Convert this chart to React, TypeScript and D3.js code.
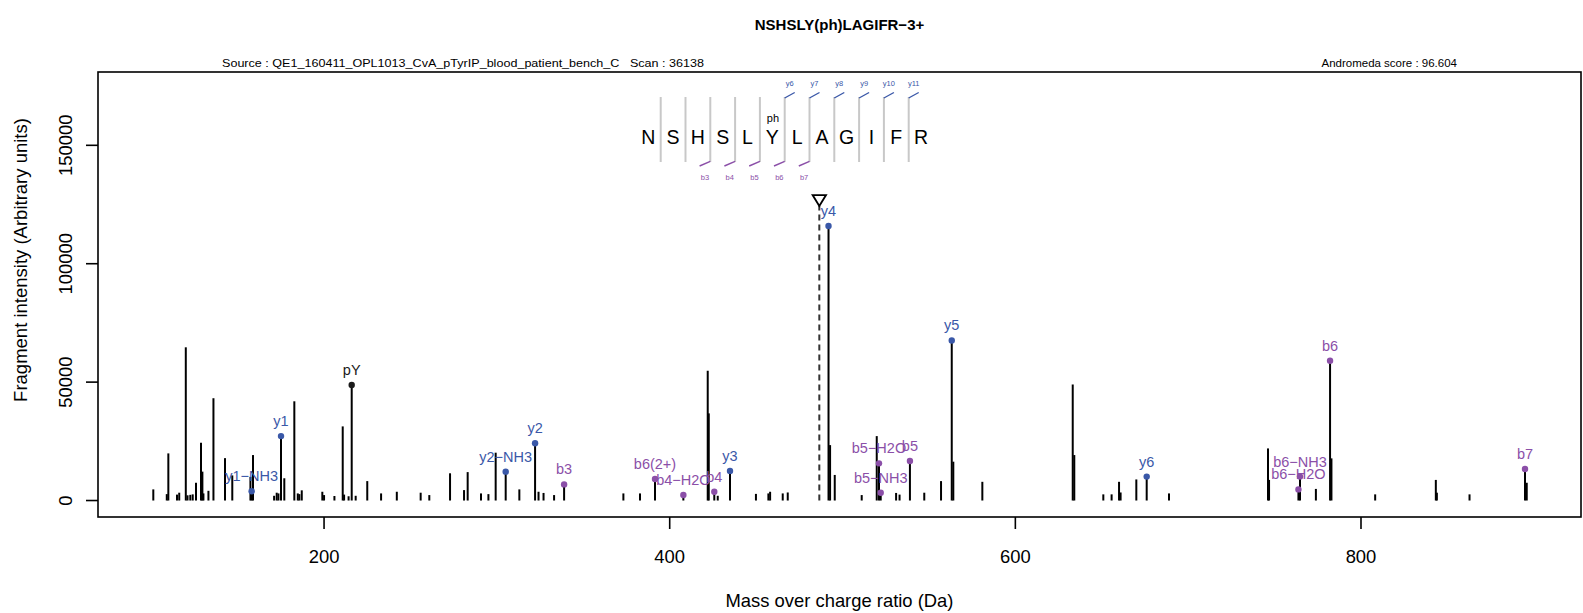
import React from 'react';
import * as d3 from 'd3';

// ---------------- DATA ----------------
const title = 'NSHSLY(ph)LAGIFR\u22123+';
const sourceText = 'Source : QE1_160411_OPL1013_CvA_pTyrIP_blood_patient_bench_C   Scan : 36138';
const scoreText = 'Andromeda score : 96.604';
const xAxisTitle = 'Mass over charge ratio (Da)';
const yAxisTitle = 'Fragment intensity (Arbitrary units)';

const xTicks = [200, 400, 600, 800];
const yTicks = [0, 50000, 100000, 150000];

// unannotated fragment peaks
const peakMz = [101.2, 109.0, 109.9, 114.9, 116.2, 120.0, 121.0, 122.6, 124.0, 125.9, 128.8, 129.6, 130.2, 133.1, 136.0, 142.7, 146.9, 157.4, 158.9, 171.1, 172.6, 173.6, 177.0, 182.8, 184.8, 185.7, 187.1, 199.0, 200.0, 206.0, 210.8, 211.6, 214.2, 218.3, 225.0, 233.0, 242.1, 255.9, 260.9, 272.9, 281.0, 283.1, 290.8, 295.1, 299.3, 313.0, 324.1, 327.0, 333.1, 373.2, 382.8, 422.0, 422.6, 427.8, 449.9, 457.1, 458.1, 465.4, 468.3, 492.8, 495.5, 511.1, 519.8, 531.0, 533.0, 547.3, 557.0, 564.1, 580.9, 633.2, 634.1, 650.9, 655.7, 660.0, 660.9, 670.0, 688.9, 746.2, 746.8, 773.9, 782.9, 808.2, 843.3, 843.9, 862.8, 895.9];
const peakIntensity = [4700, 2700, 19900, 2500, 3300, 64700, 2200, 2400, 2600, 7500, 24400, 12200, 3000, 4100, 43200, 17900, 10600, 10000, 19200, 2000, 3300, 3000, 9400, 41900, 3000, 2700, 4300, 3700, 2300, 1900, 31300, 2500, 1800, 2000, 8200, 3000, 3700, 3300, 2300, 11500, 4400, 12000, 3000, 2700, 20200, 4700, 3700, 3200, 2300, 3000, 3000, 54800, 36800, 2000, 2800, 3000, 3700, 3000, 3400, 23400, 10800, 2300, 27200, 3200, 2500, 3300, 8200, 16400, 7900, 49000, 19200, 2600, 2600, 7900, 3400, 8900, 3000, 22000, 8700, 4900, 17800, 2600, 8700, 3300, 2600, 7500];

// annotated fragment peaks
const annLabel = ['y1\u2212NH3', 'y1', 'pY', 'y2\u2212NH3', 'y2', 'b3', 'b6(2+)', 'b4\u2212H2O', 'b4', 'y3', 'y4', 'b5\u2212H2O', 'b5\u2212NH3', 'b5', 'y5', 'y6', 'b6\u2212H2O', 'b6\u2212NH3', 'b6', 'b7'];
const annMz = [158.1, 175.1, 216.0, 305.1, 322.1, 338.9, 391.5, 407.9, 425.8, 434.9, 491.9, 521.1, 522.1, 539.0, 563.2, 676.0, 763.8, 764.7, 782.1, 894.9];
const annIntensity = [3900, 27200, 48800, 12200, 24200, 6800, 9100, 2300, 3700, 12500, 115900, 15700, 3300, 16700, 67600, 10100, 4700, 10100, 59000, 13300];
const annSeries = ['y', 'y', 'imm', 'y', 'y', 'b', 'b', 'b', 'b', 'y', 'y', 'b', 'b', 'b', 'y', 'y', 'b', 'b', 'b', 'b'];

const precursorMz = 486.57;
const precursorMarkIntensity = 129000;

const sequence = ['N', 'S', 'H', 'S', 'L', 'Y', 'L', 'A', 'G', 'I', 'F', 'R'];
const modPosition = 6; // 1-based residue carrying "ph"
const modLabel = 'ph';
// separator index (after residue i) and label for each matched ion shown on the sequence
const bMarkSep = [3, 4, 5, 6, 7];
const bMarkLabel = ['b3', 'b4', 'b5', 'b6', 'b7'];
const yMarkSep = [6, 7, 8, 9, 10, 11];
const yMarkLabel = ['y6', 'y7', 'y8', 'y9', 'y10', 'y11'];

// ---------------- LAYOUT / STYLE ----------------
const W = 1583;
const H = 613;
const P = { left: 98, right: 1581, top: 72, bottom: 517 };
const X_DOMAIN = [69.2, 927.3];
const Y_DOMAIN = [-6960, 180960];
const COLORS = { y: '#3A58A8', b: '#8B4FA8', imm: '#1a1a1a' } as Record<string, string>;
const FONT = '"Liberation Sans", Arial, Helvetica, sans-serif';
const SEQ = { firstX: 648.3, step: 24.8, baseline: 143.7, sepTop: 97, sepBottom: 162 };

export default function App() {
  const x = d3.scaleLinear().domain(X_DOMAIN).range([P.left, P.right]);
  const y = d3.scaleLinear().domain(Y_DOMAIN).range([P.bottom, P.top]);
  const y0 = y(0);

  const sepX = (i: number) => SEQ.firstX + (i - 0.5) * SEQ.step; // separator after residue i
  const nRes = sequence.length;

  const precX = x(precursorMz);
  const triTop = y(precursorMarkIntensity);
  const triPath = d3.line()([[precX - 6.7, triTop], [precX + 6.7, triTop], [precX, triTop + 11]]) + 'Z';

  return (
    <svg width={W} height={H} style={{ position: 'absolute', left: 0, top: 0, background: '#fff' }} fontFamily={FONT}>
      <rect x={0} y={0} width={W} height={H} fill="#fff" />
      {/* titles */}
      <text x={(P.left + P.right) / 2} y={29.5} textAnchor="middle" fontSize={15} fontWeight="bold">{title}</text>
      <text x={222} y={67} fontSize={11.5} textLength={482} lengthAdjust="spacingAndGlyphs" style={{ whiteSpace: 'pre' }}>{sourceText}</text>
      <text x={1457} y={67} fontSize={11.5} textAnchor="end">{scoreText}</text>

      {/* peaks */}
      <g stroke="#000" strokeWidth={2}>
        {peakMz.map((m, i) => (
          <line key={'p' + i} x1={x(m)} x2={x(m)} y1={y0} y2={y(peakIntensity[i])} />
        ))}
        {annMz.map((m, i) => (
          <line key={'a' + i} x1={x(m)} x2={x(m)} y1={y0} y2={y(annIntensity[i])} />
        ))}
      </g>

      {/* precursor */}
      <line x1={precX} x2={precX} y1={y0} y2={triTop + 11} stroke="#333" strokeWidth={2} strokeDasharray="6,4" />
      <path d={triPath} fill="#fff" stroke="#000" strokeWidth={1.8} />

      {/* annotated dots */}
      {annMz.map((m, i) => (
        <circle key={'d' + i} cx={x(m)} cy={y(annIntensity[i])} r={3.2} fill={COLORS[annSeries[i]]} />
      ))}
      {annMz.map((m, i) => (
        <text key={'t' + i} x={x(m)} y={y(annIntensity[i]) - 10} textAnchor="middle" fontSize={14.5} fill={COLORS[annSeries[i]]}>{annLabel[i]}</text>
      ))}

      {/* sequence */}
      <g>
        {d3.range(1, nRes).map((i) => (
          <line key={'s' + i} x1={sepX(i)} x2={sepX(i)} y1={SEQ.sepTop} y2={SEQ.sepBottom} stroke="#C8C8C8" strokeWidth={2} />
        ))}
        {sequence.map((r, i) => (
          <text key={'r' + i} x={SEQ.firstX + i * SEQ.step} y={SEQ.baseline} textAnchor="middle" fontSize={19.5}>{r}</text>
        ))}
        <text x={SEQ.firstX + (modPosition - 1) * SEQ.step + 0.6} y={121.5} textAnchor="middle" fontSize={11}>{modLabel}</text>
        {bMarkSep.map((k, j) => (
          <g key={'b' + k}>
            <line x1={sepX(k)} y1={SEQ.sepBottom - 0.7} x2={sepX(k) - 10.7} y2={SEQ.sepBottom + 4} stroke={COLORS.b} strokeWidth={1.4} />
            <text x={sepX(k) - 5.4} y={179.5} textAnchor="middle" fontSize={7.5} fill={COLORS.b}>{bMarkLabel[j]}</text>
          </g>
        ))}
        {yMarkSep.map((k, j) => (
          <g key={'y' + k}>
            <line x1={sepX(k)} y1={SEQ.sepTop + 1} x2={sepX(k) + 10} y2={SEQ.sepTop - 4.5} stroke={COLORS.y} strokeWidth={1.4} />
            <text x={sepX(k) + 5} y={86} textAnchor="middle" fontSize={7.5} fill={COLORS.y}>{yMarkLabel[j]}</text>
          </g>
        ))}
      </g>

      {/* box & axes */}
      <rect x={P.left} y={P.top} width={P.right - P.left} height={P.bottom - P.top} fill="none" stroke="#000" strokeWidth={1.6} />
      <g stroke="#000" strokeWidth={1.6}>
        {xTicks.map((t) => (
          <line key={'xt' + t} x1={x(t)} x2={x(t)} y1={P.bottom} y2={P.bottom + 12} />
        ))}
        {yTicks.map((t) => (
          <line key={'yt' + t} x1={P.left} x2={P.left - 12} y1={y(t)} y2={y(t)} />
        ))}
      </g>
      {xTicks.map((t) => (
        <text key={'xl' + t} x={x(t)} y={562.5} textAnchor="middle" fontSize={18.4}>{t}</text>
      ))}
      {yTicks.map((t) => (
        <text key={'yl' + t} transform={`translate(${65.7},${y(t)}) rotate(-90)`} textAnchor="middle" dominantBaseline="central" fontSize={18.4}>{t}</text>
      ))}
      <text x={(P.left + P.right) / 2} y={607} textAnchor="middle" fontSize={18.4}>{xAxisTitle}</text>
      <text transform={`translate(${20.5},${260}) rotate(-90)`} textAnchor="middle" dominantBaseline="central" fontSize={18.5}>{yAxisTitle}</text>
    </svg>
  );
}
